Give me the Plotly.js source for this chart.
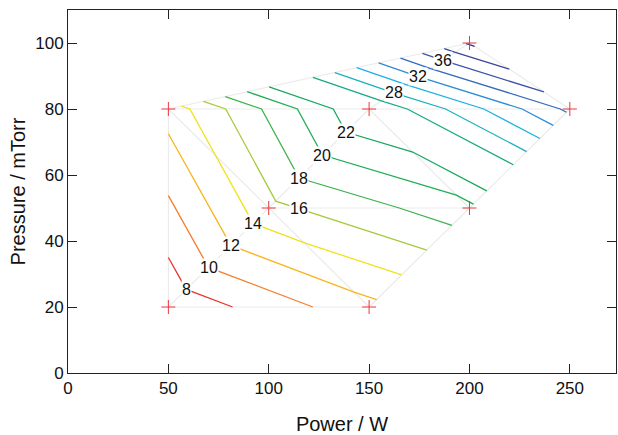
<!DOCTYPE html>
<html>
<head>
<meta charset="utf-8">
<script src="https://cdn.plot.ly/plotly-3.0.1.min.js"></script>
<style>html,body{margin:0;padding:0;background:#fff}#chart{width:618px;height:435px}</style>
</head>
<body>
<div id="chart"></div>
<script>
// Measured points (Power / W, Pressure / mTorr) and measured value at each point
const power    = [50, 150, 50, 100, 150, 200, 200, 250];
const pressure = [20, 20, 80, 50, 80, 50, 100, 80];
const rate     = [6.4, 11.4, 12.8, 15.4, 24.0, 19.4, 40.3, 34.5];
// Triangulation of the points (indices)
const triangles = [[0,2,3],[0,3,1],[1,3,5],[3,2,4],[3,4,5],[2,4,6],[4,6,7],[4,5,7]];
// Contour levels and colours
const levels = [8,10,12,14,16,18,20,22,24,26,28,30,32,34,36,38,40];
const levelColors = ['#e8352b','#f47d2a','#f8b51d','#efe21d','#a5cb3b','#3cb34c','#1fae55','#1aa85f',
  '#1aa86c','#18a984','#1ab1bd','#1cb0e2','#2a8bd6','#3569be','#3b52ab','#3a469c','#36388c'];
// Labelled levels and the triangle edge on which each label sits
const labelLevels = [8,10,12,14,16,18,20,22,28,32,36];
const labelEdges  = [[0,3],[0,3],[0,3],[0,3],[3,5],[3,4],[3,4],[3,4],[4,6],[4,6],[4,6]];

function crossing(i, j, L) {
  const t = (L - rate[i]) / (rate[j] - rate[i]);
  return [power[i] + t * (power[j] - power[i]), pressure[i] + t * (pressure[j] - pressure[i])];
}
function ekey(i, j) { return i < j ? i + '-' + j : j + '-' + i; }

const traces = [];
// triangulation edges
const edgeSet = {};
const ex = [], ey = [];
triangles.forEach(t => {
  for (let k = 0; k < 3; k++) {
    const a = t[k], b = t[(k + 1) % 3], key = ekey(a, b);
    if (edgeSet[key]) continue;
    edgeSet[key] = true;
    ex.push(power[a], power[b], null); ey.push(pressure[a], pressure[b], null);
  }
});
traces.push({x: ex, y: ey, mode: 'lines', line: {color: '#ebebeb', width: 1.2}, hoverinfo: 'skip', showlegend: false});

// contour lines
levels.forEach((L, li) => {
  const segs = [];
  triangles.forEach(t => {
    const pts = [];
    for (let k = 0; k < 3; k++) {
      const a = t[k], b = t[(k + 1) % 3];
      if ((rate[a] - L) * (rate[b] - L) < 0) pts.push(ekey(a, b));
    }
    if (pts.length === 2) segs.push(pts);
  });
  const adj = {};
  segs.forEach((s, si) => { s.forEach(k => { (adj[k] = adj[k] || []).push(si); }); });
  const used = new Array(segs.length).fill(false);
  const xs = [], ys = [];
  const ptOf = k => { const [a, b] = k.split('-').map(Number); return crossing(a, b, L); };
  const chains = [];
  const starts = Object.keys(adj).filter(k => adj[k].length === 1).concat(Object.keys(adj));
  starts.forEach(st => {
    let cur = st;
    let next = (adj[cur] || []).find(si => !used[si]);
    if (next === undefined) return;
    const chain = [cur];
    while (next !== undefined) {
      used[next] = true;
      const s = segs[next];
      cur = s[0] === cur ? s[1] : s[0];
      chain.push(cur);
      next = adj[cur].find(si => !used[si]);
    }
    chains.push(chain);
  });
  chains.forEach(ch => { ch.forEach(k => { const p = ptOf(k); xs.push(p[0]); ys.push(p[1]); }); xs.push(null); ys.push(null); });
  if (xs.length) traces.push({x: xs, y: ys, mode: 'lines', line: {color: levelColors[li], width: 1.3}, hoverinfo: 'skip', showlegend: false});
});

// data points
traces.push({x: power, y: pressure, mode: 'markers', marker: {symbol: 'cross-thin', size: 10, line: {color: '#e8383a', width: 1}}, showlegend: false, hoverinfo: 'skip'});

const annotations = labelLevels.map((L, i) => {
  const p = crossing(labelEdges[i][0], labelEdges[i][1], L);
  return {x: p[0], y: p[1], text: String(L), showarrow: false, xref: 'x', yref: 'y',
    font: {family: 'Liberation Sans, Arial, sans-serif', size: 16, color: '#111'}, bgcolor: '#ffffff', borderpad: 0};
});

const axisCommon = {showline: true, linecolor: '#222', linewidth: 1, mirror: 'ticks', ticks: 'inside', ticklen: 9,
  tickcolor: '#222', tickwidth: 1, showgrid: false, zeroline: false,
  tickfont: {family: 'Liberation Sans, Arial, sans-serif', size: 17, color: '#111'}};

const layout = {
  width: 618, height: 435,
  margin: {l: 68, r: 2, t: 10, b: 62},
  paper_bgcolor: '#fff', plot_bgcolor: '#fff',
  xaxis: Object.assign({}, axisCommon, {range: [0, 273], tickvals: [0,50,100,150,200,250],
    title: {text: 'Power / W', font: {family: 'Liberation Sans, Arial, sans-serif', size: 20, color: '#111'}, standoff: 20}}),
  yaxis: Object.assign({}, axisCommon, {range: [0, 110], tickvals: [0,20,40,60,80,100],
    title: {text: 'Pressure / mTorr', font: {family: 'Liberation Sans, Arial, sans-serif', size: 20, color: '#111'}, standoff: 4}}),
  annotations: annotations,
  showlegend: false
};
Plotly.newPlot('chart', traces, layout, {displayModeBar: false, staticPlot: true});
</script>
</body>
</html>
